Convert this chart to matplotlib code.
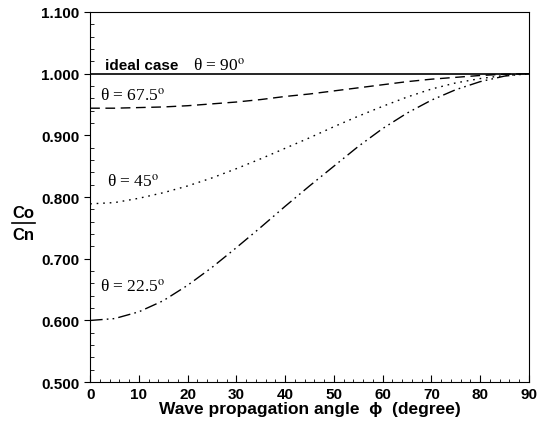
import matplotlib
matplotlib.use('Agg')
import matplotlib.pyplot as plt
from matplotlib.ticker import MultipleLocator, FormatStrFormatter

plt.rcParams['mathtext.fontset'] = 'stix'

# wave propagation angle (degree)
phi = [0, 5, 10, 15, 20, 25, 30, 35, 40, 45, 50, 55, 60, 65, 70, 75, 80, 85, 90]

# Co/Cn for each theta
ideal_90 = [1.0] * len(phi)
theta_675 = [0.944, 0.944, 0.945, 0.946, 0.948, 0.951, 0.954, 0.958, 0.963, 0.967,
             0.972, 0.977, 0.982, 0.987, 0.991, 0.994, 0.997, 0.999, 1.0]
theta_45 = [0.789, 0.791, 0.798, 0.807, 0.818, 0.831, 0.846, 0.862, 0.879, 0.896,
            0.914, 0.931, 0.947, 0.962, 0.975, 0.985, 0.992, 0.997, 1.0]
theta_225 = [0.600, 0.603, 0.614, 0.632, 0.657, 0.686, 0.718, 0.751, 0.785, 0.818,
             0.850, 0.882, 0.911, 0.936, 0.957, 0.974, 0.987, 0.996, 1.0]

fig = plt.figure(figsize=(5.43, 4.31), dpi=100)
ax = fig.add_axes([0.166, 0.111, 0.808, 0.859])

ax.plot(phi, ideal_90, color='black', lw=1.2, ls='-')
ax.plot(phi, theta_675, color='black', lw=1.0, ls=(0, (7, 4)))
ax.plot(phi, theta_45, color='black', lw=1.0, ls=(0, (1.2, 3.5)))
ax.plot(phi, theta_225, color='black', lw=1.0, ls=(0, (9, 3, 1.2, 3, 1.2, 3)))

ax.set_xlim(0, 90)
ax.set_ylim(0.5, 1.1)
ax.xaxis.set_major_locator(MultipleLocator(10))
ax.xaxis.set_minor_locator(MultipleLocator(2))
ax.yaxis.set_major_locator(MultipleLocator(0.1))
ax.yaxis.set_minor_locator(MultipleLocator(0.02))
ax.yaxis.set_major_formatter(FormatStrFormatter('%.3f'))

ax.tick_params(axis='y', which='major', direction='out', length=4)
ax.tick_params(axis='y', which='minor', direction='in', length=3)
ax.tick_params(axis='x', which='major', direction='in', length=5)
ax.tick_params(axis='x', which='minor', direction='in', length=2.5)
ax.tick_params(labelsize=11)
for lab in ax.get_xticklabels() + ax.get_yticklabels():
    lab.set_fontweight('bold')
    lab.set_family('Liberation Sans')

ax.set_xlabel('Wave propagation angle  \u03d5  (degree)', fontsize=12.5,
              fontweight='bold', family=['Liberation Sans', 'DejaVu Sans'],
              labelpad=0)

# Co / Cn fraction as y label
fig.text(0.043, 0.488, 'Co', fontsize=12, fontweight='bold',
         family='Liberation Sans', ha='center', va='bottom')
fig.text(0.043, 0.472, 'Cn', fontsize=12, fontweight='bold',
         family='Liberation Sans', ha='center', va='top')
fig.add_artist(plt.Line2D([0.022, 0.064], [0.480, 0.480], color='black', lw=1.2))

ax.text(3, 1.014, 'ideal case', fontsize=11, fontweight='bold',
        family='Liberation Sans', va='center')
ax.text(21, 1.014, '\u03b8 = 90$^{\\rm o}$', fontsize=12.5,
        family='Liberation Serif', va='center')
ax.text(2, 0.965, '\u03b8 = 67.5$^{\\rm o}$', fontsize=12.5,
        family='Liberation Serif', va='center')
ax.text(3.5, 0.826, '\u03b8 = 45$^{\\rm o}$', fontsize=12.5,
        family='Liberation Serif', va='center')
ax.text(2, 0.655, '\u03b8 = 22.5$^{\\rm o}$', fontsize=12.5,
        family='Liberation Serif', va='center')

fig.savefig('out.png', dpi=100)
